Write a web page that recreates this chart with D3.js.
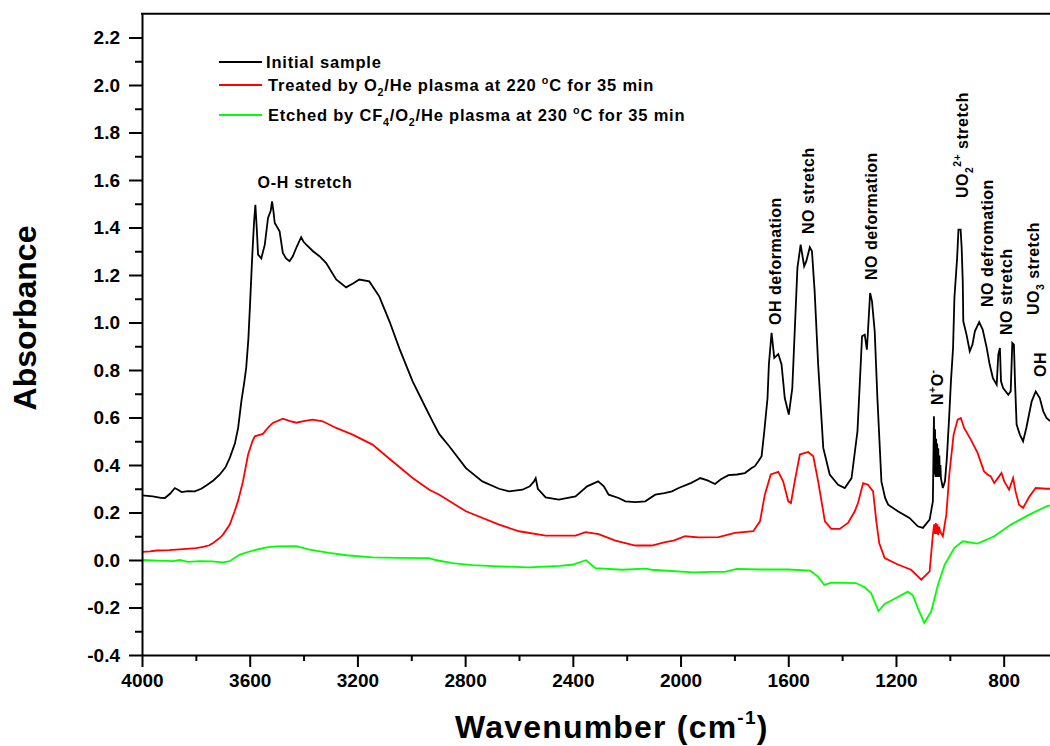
<!DOCTYPE html>
<html>
<head>
<meta charset="utf-8">
<script src="https://cdn.jsdelivr.net/npm/d3@7"></script>
<style>
  body { margin: 0; background: #fff; }
  svg { display: block; }
  text { font-family: "Liberation Sans", Arial, sans-serif; font-weight: bold; fill: #000; }
</style>
</head>
<body>
<script>
// spectra: [wavenumber, absorbance]
var initialSample = [
  [4000,0.272],[3960,0.268],[3930,0.262],[3915,0.261],[3895,0.28],[3878,0.303],[3865,0.295],[3853,0.286],
  [3830,0.29],[3804,0.289],[3780,0.30],[3760,0.315],[3735,0.335],[3711,0.36],[3690,0.39],[3674,0.43],
  [3655,0.49],[3643,0.556],[3631,0.668],[3620,0.75],[3613,0.81],[3605,0.93],[3600,1.047],[3591,1.27],
  [3584,1.42],[3579,1.496],[3574,1.40],[3569,1.286],[3557,1.27],[3544,1.328],[3532,1.44],[3522,1.47],
  [3517,1.51],[3512,1.47],[3507,1.419],[3489,1.384],[3477,1.293],[3465,1.27],[3452,1.258],[3440,1.279],
  [3425,1.32],[3409,1.359],[3400,1.34],[3390,1.328],[3365,1.30],[3341,1.279],[3316,1.25],[3279,1.181],
  [3242,1.148],[3215,1.165],[3193,1.181],[3156,1.173],[3119,1.11],[3081,1.005],[3044,0.89],[2995,0.752],
  [2946,0.64],[2921,0.584],[2896,0.53],[2859,0.479],[2797,0.387],[2736,0.331],[2674,0.30],[2637,0.289],
  [2587,0.296],[2560,0.31],[2545,0.33],[2538,0.345],[2530,0.30],[2501,0.264],[2452,0.254],[2390,0.268],
  [2347,0.31],[2306,0.331],[2285,0.31],[2267,0.275],[2230,0.261],[2205,0.247],[2168,0.244],[2131,0.247],
  [2094,0.275],[2060,0.282],[2032,0.289],[2007,0.303],[1960,0.325],[1933,0.341],[1927,0.345],[1900,0.335],
  [1872,0.32],[1850,0.34],[1822,0.357],[1790,0.36],[1761,0.366],[1736,0.387],[1724,0.395],[1711,0.416],
  [1699,0.437],[1689,0.542],[1677,0.682],[1672,0.823],[1662,0.956],[1652,0.851],[1637,0.867],[1625,0.823],
  [1613,0.682],[1598,0.612],[1585,0.724],[1576,0.963],[1566,1.23],[1554,1.328],[1541,1.237],[1533,1.258],
  [1520,1.317],[1512,1.30],[1502,1.131],[1489,0.823],[1470,0.472],[1446,0.36],[1415,0.317],[1390,0.303],
  [1365,0.345],[1343,0.542],[1331,0.823],[1326,0.942],[1316,0.949],[1308,0.886],[1304,0.963],[1296,1.124],
  [1289,1.089],[1279,0.963],[1269,0.682],[1254,0.33],[1240,0.26],[1229,0.233],[1193,0.205],[1150,0.177],
  [1119,0.142],[1100,0.135],[1075,0.17],[1063,0.247],[1059,0.605],[1057,0.36],[1055,0.55],[1053,0.35],
  [1051,0.51],[1049,0.35],[1047,0.49],[1045,0.35],[1043,0.47],[1041,0.35],[1039,0.44],[1037,0.35],
  [1035,0.40],[1033,0.345],[1026,0.303],[1018,0.331],[1011,0.429],[1002,0.612],[996,0.75],[988,0.893],
  [983,1.103],[973,1.27],[968,1.391],[960,1.391],[956,1.314],[952,1.173],[950,1.005],[938,0.949],
  [926,0.879],[916,0.907],[907,0.963],[891,1.002],[878,0.97],[863,0.893],[852,0.823],[840,0.766],
  [826,0.738],[820,0.865],[814,0.893],[810,0.752],[802,0.724],[783,0.696],[774,0.71],[768,0.914],
  [762,0.907],[758,0.752],[752,0.57],[740,0.528],[728,0.5],[716,0.556],[696,0.668],[681,0.71],
  [666,0.682],[653,0.626],[641,0.598],[628,0.585]
];

var treatedSample = [
  [4000,0.034],[3970,0.036],[3946,0.04],[3900,0.042],[3847,0.046],[3800,0.05],[3773,0.055],[3750,0.062],
  [3736,0.072],[3711,0.093],[3699,0.107],[3674,0.149],[3656,0.205],[3643,0.25],[3625,0.331],[3606,0.444],
  [3590,0.50],[3581,0.521],[3551,0.531],[3530,0.56],[3514,0.577],[3477,0.595],[3450,0.585],[3427,0.578],
  [3400,0.585],[3366,0.591],[3329,0.584],[3279,0.556],[3218,0.528],[3144,0.486],[3070,0.416],[2995,0.345],
  [2933,0.296],[2896,0.275],[2797,0.205],[2674,0.149],[2600,0.121],[2501,0.103],[2390,0.103],[2353,0.117],
  [2304,0.109],[2242,0.082],[2168,0.061],[2107,0.061],[2057,0.075],[2026,0.082],[1983,0.1],[1933,0.095],
  [1859,0.096],[1798,0.114],[1730,0.121],[1705,0.163],[1687,0.275],[1665,0.36],[1637,0.371],[1619,0.331],
  [1600,0.247],[1590,0.24],[1576,0.331],[1557,0.444],[1526,0.455],[1507,0.437],[1489,0.331],[1464,0.163],
  [1440,0.131],[1409,0.131],[1378,0.156],[1353,0.205],[1341,0.24],[1322,0.324],[1304,0.317],[1285,0.289],
  [1273,0.163],[1262,0.07],[1242,0.008],[1193,-0.019],[1144,-0.041],[1106,-0.083],[1075,-0.048],[1063,0.107],
  [1058,0.15],[1055,0.11],[1052,0.155],[1049,0.11],[1046,0.15],[1043,0.105],[1040,0.14],[1036,0.12],
  [1026,0.1],[1013,0.191],[1002,0.36],[986,0.528],[971,0.591],[959,0.598],[947,0.556],[922,0.507],
  [897,0.451],[873,0.373],[860,0.36],[848,0.352],[835,0.324],[817,0.352],[808,0.366],[798,0.331],
  [780,0.296],[765,0.345],[756,0.289],[743,0.233],[728,0.219],[704,0.268],[681,0.303],[641,0.30],[628,0.30]
];

var etchedSample = [
  [4000,0],[3940,-0.003],[3884,-0.005],[3860,0.0],[3830,-0.008],[3785,-0.005],[3740,-0.006],[3700,-0.01],
  [3674,-0.005],[3655,0.01],[3637,0.023],[3588,0.04],[3538,0.053],[3500,0.057],[3427,0.058],[3378,0.044],
  [3304,0.03],[3242,0.02],[3144,0.011],[3050,0.009],[2933,0.008],[2910,0.0],[2847,-0.013],[2773,-0.022],
  [2674,-0.027],[2563,-0.031],[2450,-0.025],[2403,-0.02],[2351,-0.001],[2316,-0.034],[2217,-0.041],[2131,-0.036],
  [2107,-0.041],[1953,-0.052],[1880,-0.05],[1836,-0.05],[1791,-0.037],[1700,-0.04],[1600,-0.04],[1518,-0.045],
  [1490,-0.07],[1466,-0.105],[1440,-0.095],[1349,-0.097],[1316,-0.115],[1292,-0.14],[1265,-0.215],[1242,-0.185],
  [1205,-0.163],[1156,-0.133],[1137,-0.15],[1119,-0.202],[1095,-0.265],[1069,-0.216],[1044,-0.104],[1019,-0.019],
  [983,0.051],[952,0.079],[897,0.069],[835,0.1],[773,0.149],[705,0.191],[641,0.226],[628,0.23]
];

var seriesColors = ["#000000", "#ff0000", "#00ff00"];

var xMajorTicks = [4000, 3600, 3200, 2800, 2400, 2000, 1600, 1200, 800];
var xMinorTicks = [3800, 3400, 3000, 2600, 2200, 1800, 1400, 1000, 600];
var yMajorTicks = [-0.4, -0.2, 0.0, 0.2, 0.4, 0.6, 0.8, 1.0, 1.2, 1.4, 1.6, 1.8, 2.0, 2.2];
var yMinorTicks = [-0.3, -0.1, 0.1, 0.3, 0.5, 0.7, 0.9, 1.1, 1.3, 1.5, 1.7, 1.9, 2.1];

var width = 1050, height = 746;
var svg = d3.select("body").append("svg")
    .attr("width", width)
    .attr("height", height);

var x = d3.scaleLinear().domain([4000, 628]).range([142, 1050]);
var y = d3.scaleLinear().domain([-0.4, 2.3]).range([655, 13.75]);

// curves
var line = d3.line()
    .x(function(d) { return x(d[0]); })
    .y(function(d) { return y(d[1]); });

[initialSample, treatedSample, etchedSample].forEach(function(s, i) {
    svg.append("path")
        .datum(s)
        .attr("fill", "none")
        .attr("stroke", seriesColors[i])
        .attr("stroke-width", 1.8)
        .attr("d", line);
});

// axes
var gx = svg.append("g").attr("transform", "translate(0,655)");
gx.call(d3.axisBottom(x).tickValues(xMajorTicks).tickSize(12).tickSizeOuter(0).tickPadding(7)
    .tickFormat(function(d) { return String(d); }));
svg.append("g").attr("transform", "translate(0,655)")
    .call(d3.axisBottom(x).tickValues(xMinorTicks).tickSize(6).tickSizeOuter(0).tickFormat(""))
    .select(".domain").remove();

var gy = svg.append("g").attr("transform", "translate(142,0)");
gy.call(d3.axisLeft(y).tickValues(yMajorTicks).tickSize(13).tickSizeOuter(0).tickPadding(9)
    .tickFormat(function(d) { return d.toFixed(1); }));
svg.append("g").attr("transform", "translate(142,0)")
    .call(d3.axisLeft(y).tickValues(yMinorTicks).tickSize(7).tickSizeOuter(0).tickFormat(""))
    .select(".domain").remove();

svg.selectAll(".domain, .tick line").attr("stroke", "#000").attr("stroke-width", 2);
svg.selectAll(".tick text")
    .attr("font-size", 19)
    .attr("font-family", "Liberation Sans, Arial, sans-serif")
    .attr("font-weight", "bold")
    .attr("fill", "#000");

// top frame line
svg.append("line")
    .attr("x1", 141).attr("x2", 1050)
    .attr("y1", y(2.3)).attr("y2", y(2.3))
    .attr("stroke", "#000").attr("stroke-width", 2);

// axis titles
svg.append("text")
    .attr("transform", "translate(36,318) rotate(-90)")
    .attr("text-anchor", "middle")
    .attr("font-size", 32)
    .text("Absorbance");

var xt = svg.append("text")
    .attr("x", 455).attr("y", 738)
    .attr("font-size", 32)
    .attr("letter-spacing", 1.2);
xt.append("tspan").text("Wavenumber (cm");
xt.append("tspan").attr("font-size", 19).attr("dy", -14).text("-1");
xt.append("tspan").attr("dy", 14).text(")");

// legend
var legendRows = [
  { y: 62, parts: [["Initial sample"]] },
  { y: 85, parts: [["Treated by O"], ["2", "sub"], ["/He plasma at 220 "], ["o", "sup"], ["C for 35 min"]] },
  { y: 115, parts: [["Etched by CF"], ["4", "sub"], ["/O"], ["2", "sub"], ["/He plasma at 230 "], ["o", "sup"], ["C for 35 min"]] }
];

function richText(t, parts, size) {
    var shift = 0;
    parts.forEach(function(p) {
        var ts = t.append("tspan").text(p[0]);
        var target = 0;
        if (p[1] === "sub") { ts.attr("font-size", size * 0.65); target = 5; }
        if (p[1] === "sup") { ts.attr("font-size", size * 0.65); target = -7; }
        ts.attr("dy", target - shift);
        shift = target;
    });
}

legendRows.forEach(function(r, i) {
    svg.append("line")
        .attr("x1", 219).attr("x2", 262)
        .attr("y1", r.y).attr("y2", r.y)
        .attr("stroke", seriesColors[i]).attr("stroke-width", 2);
    var t = svg.append("text")
        .attr("x", i === 0 ? 266 : 268).attr("y", r.y + 6)
        .attr("font-size", 16.5)
        .attr("letter-spacing", 0.8);
    richText(t, r.parts, 16.5);
});

// peak labels
svg.append("text")
    .attr("x", 305).attr("y", 188)
    .attr("text-anchor", "middle")
    .attr("font-size", 16)
    .attr("letter-spacing", 0.7)
    .text("O-H stretch");

var peakLabels = [
  { x: 781, y: 325, parts: [["OH deformation"]] },
  { x: 814, y: 234, parts: [["NO stretch"]] },
  { x: 877, y: 280, parts: [["NO deformation"]] },
  { x: 943, y: 405, parts: [["N"], ["+", "sup"], ["O"], ["-", "sup"]] },
  { x: 968, y: 198, parts: [["UO"], ["2", "sub"], ["2+", "sup"], [" stretch"]] },
  { x: 993, y: 307, parts: [["NO defromation"]] },
  { x: 1012, y: 335, parts: [["NO stretch"]] },
  { x: 1039, y: 315, parts: [["UO"], ["3", "sub"], [" stretch"]] },
  { x: 1046, y: 377, parts: [["OH"]] }
];

peakLabels.forEach(function(p) {
    var t = svg.append("text")
        .attr("transform", "translate(" + p.x + "," + p.y + ") rotate(-90)")
        .attr("font-size", 16)
        .attr("letter-spacing", 0.5);
    richText(t, p.parts, 16);
});
</script>
</body>
</html>
